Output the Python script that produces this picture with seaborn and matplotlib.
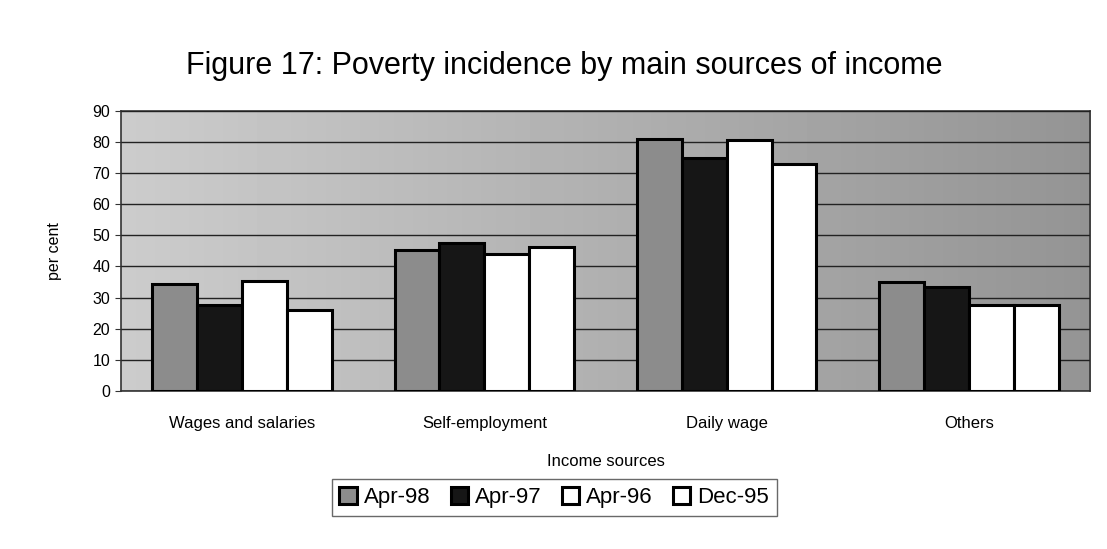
import numpy as np
import pandas as pd
import matplotlib.pyplot as plt
import seaborn as sns

sources = ['Wages and salaries', 'Self-employment', 'Daily wage', 'Others']
periods = ['Apr-98', 'Apr-97', 'Apr-96', 'Dec-95']
apr98 = [34.5, 45.4, 81.0, 35.0]
apr97 = [27.7, 47.6, 74.9, 33.3]
apr96 = [35.3, 44.0, 80.6, 27.5]
dec95 = [25.9, 46.2, 72.8, 27.5]
yticks = list(range(0, 100, 10))

df = pd.DataFrame({'source': sources * 4,
                   'period': np.repeat(periods, 4),
                   'value': apr98 + apr97 + apr96 + dec95})

sns.set_style('white')
plt.rcParams['font.family'] = ['Liberation Sans', 'DejaVu Sans']
plt.rcParams['text.color'] = 'black'
plt.rcParams['axes.labelcolor'] = 'black'
plt.rcParams['xtick.color'] = 'black'
plt.rcParams['ytick.color'] = 'black'

fig = plt.figure(figsize=(11.07, 5.49), dpi=100)
ax = fig.add_axes([0.109, 0.288, 0.876, 0.51])

palette = {'Apr-98': '#8c8c8c', 'Apr-97': '#161616', 'Apr-96': '#ffffff', 'Dec-95': '#ffffff'}
sns.barplot(data=df, x='source', y='value', hue='period', hue_order=periods,
            palette=palette, width=0.74, edgecolor='black', linewidth=2.2,
            saturation=1, ax=ax, zorder=3, legend=True)

# grey plot background, lighter to the left
grad = np.linspace(0.80, 0.58, 256).reshape(1, -1)
ax.imshow(grad, cmap='gray', vmin=0, vmax=1, aspect='auto',
          extent=[-0.5, 3.5, 0, 90], zorder=0)
ax.set_xlim(-0.5, 3.5)
ax.set_ylim(0, 90)
ax.set_yticks(yticks)
ax.yaxis.grid(True, color='#222222', linewidth=1.0, zorder=1)
ax.set_axisbelow(False)
for s in ax.spines.values():
    s.set_color('#333333')
    s.set_linewidth(1.2)
ax.tick_params(axis='y', labelsize=11.5, length=4, left=True, color='#333333')
ax.tick_params(axis='x', labelsize=12, length=0, pad=18)
ax.set_ylabel('per cent', fontsize=11.5, labelpad=22)
ax.set_xlabel('Income sources', fontsize=12, labelpad=17)

fig.text(0.51, 0.88, 'Figure 17: Poverty incidence by main sources of income',
         ha='center', va='center', fontsize=22)

handles, labels = ax.get_legend_handles_labels()
ax.legend(handles, labels, loc='center', bbox_to_anchor=(0.447, -0.38), ncol=4,
          fontsize=16, frameon=True, fancybox=False, edgecolor='#444444',
          handlelength=0.8, handleheight=0.8, handletextpad=0.3, columnspacing=0.9,
          borderpad=0.35)

fig.savefig('out.png', dpi=100)
